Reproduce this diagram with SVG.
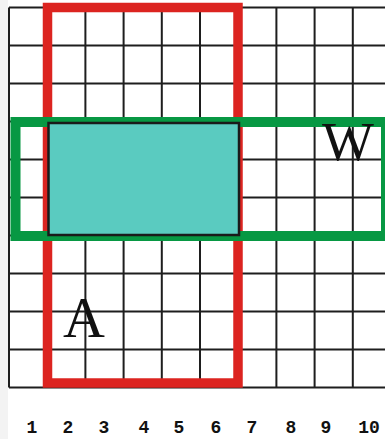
<svg xmlns="http://www.w3.org/2000/svg" width="385" height="439" viewBox="0 0 385 439">
<style>
.grid{fill:none;stroke:#1e1e1e;stroke-width:2}
.red{fill:none;stroke:#dc2420;stroke-width:9.5}
.green{fill:none;stroke:#079843;stroke-width:10}
.teal{fill:#5acbc0;stroke:#1a1a1a;stroke-width:2.5}
.letter{font-family:"Liberation Serif","DejaVu Serif",serif;fill:#111}
.num{font-family:"Liberation Mono","DejaVu Sans Mono",monospace;font-size:18px;font-weight:bold;fill:#111;text-anchor:middle}
</style>
<rect x="0" y="0" width="385" height="439" fill="#f3f3f3"/>
<rect x="8" y="0" width="377" height="439" fill="#ffffff"/>
<g id="grid">
<path class="grid" d="M9,7.5V387.5 M47.2,7.5V387.5 M85.4,7.5V387.5 M123.6,7.5V387.5 M161.8,7.5V387.5 M200,7.5V387.5 M238.2,7.5V387.5 M276.4,7.5V387.5 M314.6,7.5V387.5 M352.8,7.5V387.5 M9,7.5H385 M9,45.5H385 M9,83.5H385 M9,121.5H385 M9,159.5H385 M9,197.5H385 M9,235.5H385 M9,273.5H385 M9,311.5H385 M9,349.5H385 M9,387.5H385"/>
</g>
<g id="rect-A">
<rect class="red" x="47.5" y="7.5" width="190.5" height="375.5"/>
</g>
<g id="rect-W">
<rect class="green" x="15.5" y="122" width="370.5" height="114"/>
</g>
<g id="overlap">
<rect class="teal" x="48.5" y="123" width="190.5" height="112"/>
</g>
<g id="label-W">
<text class="letter" x="322" y="160" font-size="55">W</text>
</g>
<g id="label-A">
<text class="letter" x="63" y="337" font-size="58">A</text>
</g>
<g id="axis">
<text class="num" x="32" y="433">1</text>
<text class="num" x="68" y="433">2</text>
<text class="num" x="104" y="433">3</text>
<text class="num" x="144" y="433">4</text>
<text class="num" x="179" y="433">5</text>
<text class="num" x="216" y="433">6</text>
<text class="num" x="252" y="433">7</text>
<text class="num" x="291" y="433">8</text>
<text class="num" x="326" y="433">9</text>
<text class="num" x="369" y="433">10</text>
</g>
</svg>
